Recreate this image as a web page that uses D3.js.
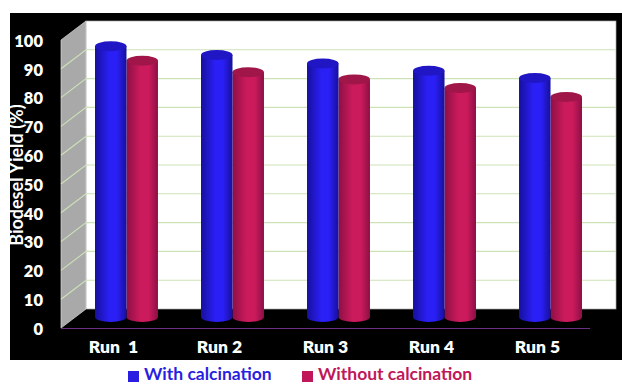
<!DOCTYPE html>
<html>
<head>
<meta charset="utf-8">
<script src="https://cdn.jsdelivr.net/npm/d3@7"></script>
<style>
  html, body { margin: 0; padding: 0; background: #fff; }
  text { font-family: Lato, "Open Sans", sans-serif; font-weight: 700; }
</style>
</head>
<body>
<svg id="chart" width="622" height="384" style="display:block"></svg>
<script>
var runs = ["Run  1", "Run 2", "Run 3", "Run 4", "Run 5"]
var withCalcination = [94, 91, 88, 85.5, 83]
var withoutCalcination = [89, 85, 82.5, 79.5, 76.4]
var seriesNames = ["With calcination", "Without calcination"]
var yTicks = [0, 10, 20, 30, 40, 50, 60, 70, 80, 90, 100]

var svg = d3.select("#chart")

// frame and the 3d box
var front = {left: 61, right: 590, top: 40, bottom: 328}
var depth = {x: 25, y: -19}
var barShift = -11

var y = d3.scaleLinear().domain([0, 100]).range([front.bottom, front.top])
var x = d3.scaleBand().domain(runs).range([95, 582]).paddingInner(0.406).paddingOuter(0)
var xInner = d3.scaleBand().domain([0, 1]).range([0, x.bandwidth()])

svg.append("rect").attr("x", 10).attr("y", 13).attr("width", 612).attr("height", 347).attr("fill", "#000")

svg.append("rect")
  .attr("x", front.left + depth.x).attr("y", front.top + depth.y)
  .attr("width", front.right + 1 - front.left)
  .attr("height", front.bottom - front.top)
  .attr("fill", "#fff").attr("stroke", "#a8a8a8").attr("stroke-width", 0.7)

svg.append("path")
  .attr("d", d3.line()([
    [front.left, front.top],
    [front.left + depth.x, front.top + depth.y],
    [front.left + depth.x, front.bottom + depth.y],
    [front.left, front.bottom]
  ]) + "Z")
  .attr("fill", "#a9a9a9").attr("stroke", "#d8d8d8").attr("stroke-width", 0.7)

// gridlines run along the side wall and across the back wall
var grid = svg.append("g").attr("fill", "none").attr("stroke", "#cde2b8").attr("stroke-width", 1.1)
yTicks.slice(1, -1).forEach(function(t) {
  grid.append("path").attr("d", d3.line()([
    [front.left, y(t)],
    [front.left + depth.x, y(t) + depth.y],
    [front.right + depth.x + 1, y(t) + depth.y]
  ]))
})

svg.append("line")
  .attr("x1", front.left).attr("x2", front.right)
  .attr("y1", front.bottom + 0.5).attr("y2", front.bottom + 0.5)
  .attr("stroke", "#6b2f86")

// cylinders
var defs = svg.append("defs")
function cylinderGradient(id, edge, mid) {
  var g = defs.append("linearGradient").attr("id", id)
  g.append("stop").attr("offset", "0%").attr("stop-color", edge)
  g.append("stop").attr("offset", "45%").attr("stop-color", mid)
  g.append("stop").attr("offset", "70%").attr("stop-color", mid)
  g.append("stop").attr("offset", "100%").attr("stop-color", edge)
}
cylinderGradient("blueBody", "#17109c", "#2a1ff5")
cylinderGradient("redBody", "#8d0f45", "#cc1b5c")

var series = [
  {values: withCalcination, body: "url(#blueBody)", cap: "#2016c4"},
  {values: withoutCalcination, body: "url(#redBody)", cap: "#a01648"}
]
var ry = 5

// red first so the blue sits over its edge
series.slice().reverse().forEach(function(s) {
  var i = series.indexOf(s)
  s.values.forEach(function(v, r) {
    var left = x(runs[r]) + xInner(i)
    var w = xInner.bandwidth()
    var top = y(v) + barShift
    var bottom = y(0) + barShift
    svg.append("path")
      .attr("d", "M" + left + "," + top + "V" + bottom +
        "A" + w / 2 + "," + ry + " 0 0 0 " + (left + w) + "," + bottom +
        "V" + top + "Z")
      .attr("fill", s.body)
    svg.append("ellipse")
      .attr("cx", left + w / 2).attr("cy", top)
      .attr("rx", w / 2).attr("ry", ry)
      .attr("fill", s.cap)
  })
})

// axes
var yAxis = svg.append("g")
  .attr("transform", "translate(" + front.left + ",1)")
  .call(d3.axisLeft(y).tickValues(yTicks).tickSize(0).tickPadding(18))
yAxis.select(".domain").remove()
yAxis.selectAll("text").attr("fill", "#fff").style("font-size", "16.5px").style("font-weight", 800)

var xAxis = svg.append("g")
  .attr("transform", "translate(-13," + (front.bottom + 13) + ")")
  .call(d3.axisBottom(x).tickSize(0).tickPadding(0))
xAxis.select(".domain").remove()
xAxis.selectAll("text").attr("fill", "#fff").style("font-size", "17.5px").style("font-weight", 800).style("white-space", "pre")

svg.append("text")
  .attr("transform", "translate(23,175) rotate(-90)")
  .attr("text-anchor", "middle")
  .attr("fill", "#fff").style("font-size", "18px")
  .text("Biodesel Yield (%)")

// legend
var legend = svg.append("g")
var legendX = [128, 302]
var legendColors = ["#2a1fe0", "#c0175a"]
seriesNames.forEach(function(name, i) {
  legend.append("rect").attr("x", legendX[i]).attr("y", 371).attr("width", 11).attr("height", 11).attr("fill", legendColors[i])
  legend.append("text").attr("x", legendX[i] + 16).attr("y", 380).attr("fill", legendColors[i]).style("font-size", "17.5px").text(name)
})
</script>
</body>
</html>
